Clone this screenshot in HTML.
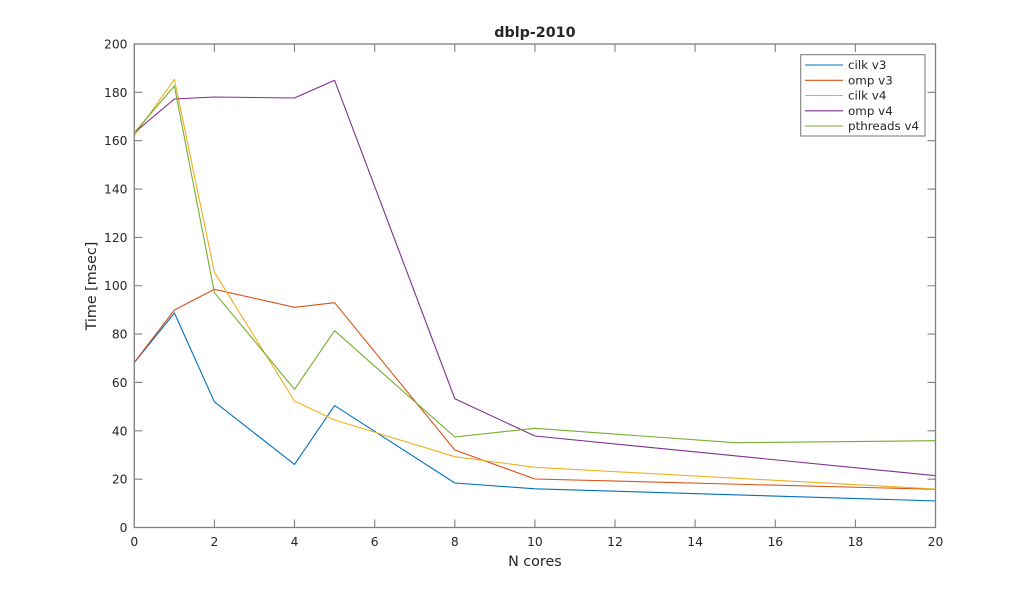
<!DOCTYPE html>
<html><head><meta charset="utf-8"><style>
html,body{margin:0;padding:0;background:#fff;}
svg{display:block;}
text{font-family:"DejaVu Sans","Liberation Sans",sans-serif;fill:#262626;}
</style></head><body>
<svg width="1034" height="593" viewBox="0 0 1034 593" xmlns="http://www.w3.org/2000/svg">
<rect width="1034" height="593" fill="#fff"/>
<!-- series -->
<g fill="none" stroke-width="1.1" stroke-linejoin="round">
<polyline stroke="#0072BD" points="134.3,362.6 174.4,313 214.4,401.8 294.5,464.4 334.6,405.6 454.8,483 534.9,488.8 935.5,500.9"/>
<polyline stroke="#D95319" points="134.3,362.3 174.4,310 214.4,289.3 294.5,307.3 334.6,302.7 454.8,450 534.9,479 935.5,489.3"/>
<polyline stroke="#EDB120" points="134.3,135.5 174.4,79.3 214.4,272.3 294.5,401 334.6,420 454.8,456.7 534.9,467.3 935.5,489"/>
<polyline stroke="#7E2F8E" points="134.3,132.7 174.4,99 214.4,97 294.5,98 334.6,80.3 454.8,398.7 534.9,436 935.5,475.7"/>
<polyline stroke="#77AC30" points="134.3,132.7 174.4,86 214.4,292.7 294.5,389.3 334.6,330.7 454.8,437 534.9,428.3 735.2,442.7 935.5,440.7"/>
</g>
<!-- axes box -->
<rect x="134.3" y="44" width="801.2" height="483.5" fill="none" stroke="#808080" stroke-width="1.3"/>
<g stroke="#808080" stroke-width="1.1">
<!-- x ticks bottom & top -->
<path d="M214.4,527.5v-8M294.5,527.5v-8M374.7,527.5v-8M454.8,527.5v-8M534.9,527.5v-8M615,527.5v-8M695.1,527.5v-8M775.3,527.5v-8M855.4,527.5v-8
M214.4,44v8M294.5,44v8M374.7,44v8M454.8,44v8M534.9,44v8M615,44v8M695.1,44v8M775.3,44v8M855.4,44v8"/>
<!-- y ticks left & right -->
<path d="M134.3,479.15h8M134.3,430.8h8M134.3,382.45h8M134.3,334.1h8M134.3,285.75h8M134.3,237.4h8M134.3,189.05h8M134.3,140.7h8M134.3,92.35h8
M935.5,479.15h-8M935.5,430.8h-8M935.5,382.45h-8M935.5,334.1h-8M935.5,285.75h-8M935.5,237.4h-8M935.5,189.05h-8M935.5,140.7h-8M935.5,92.35h-8"/>
</g>
<!-- x tick labels -->
<g font-size="12.3" text-anchor="middle">
<text x="134.3" y="546">0</text>
<text x="214.4" y="546">2</text>
<text x="294.5" y="546">4</text>
<text x="374.7" y="546">6</text>
<text x="454.8" y="546">8</text>
<text x="534.9" y="546">10</text>
<text x="615" y="546">12</text>
<text x="695.1" y="546">14</text>
<text x="775.3" y="546">16</text>
<text x="855.4" y="546">18</text>
<text x="935.5" y="546">20</text>
</g>
<!-- y tick labels -->
<g font-size="12.3" text-anchor="end">
<text x="127.5" y="532">0</text>
<text x="127.5" y="483.6">20</text>
<text x="127.5" y="435.3">40</text>
<text x="127.5" y="386.9">60</text>
<text x="127.5" y="338.6">80</text>
<text x="127.5" y="290.2">100</text>
<text x="127.5" y="241.9">120</text>
<text x="127.5" y="193.5">140</text>
<text x="127.5" y="145.2">160</text>
<text x="127.5" y="96.8">180</text>
<text x="127.5" y="48.5">200</text>
</g>
<!-- title and labels -->
<text x="534.9" y="37" font-size="14.3" font-weight="bold" text-anchor="middle" fill="#000">dblp-2010</text>
<text x="534.9" y="566" font-size="14.3" text-anchor="middle">N cores</text>
<text transform="translate(96,286) rotate(-90)" font-size="14.3" text-anchor="middle">Time [msec]</text>
<!-- legend -->
<rect x="800.7" y="54.7" width="124.3" height="81.3" fill="#fff" stroke="#808080" stroke-width="1.1"/>
<g stroke-width="1.1">
<line x1="805" y1="65" x2="843" y2="65" stroke="#0072BD"/>
<line x1="805" y1="80.3" x2="843" y2="80.3" stroke="#D95319"/>
<line x1="805" y1="95.5" x2="843" y2="95.5" stroke="#EDB120"/>
<line x1="805" y1="110.8" x2="843" y2="110.8" stroke="#7E2F8E"/>
<line x1="805" y1="126" x2="843" y2="126" stroke="#77AC30"/>
</g>
<g font-size="11.9" fill="#000">
<text x="848" y="69.2" fill="#000">cilk v3</text>
<text x="848" y="84.5" fill="#000">omp v3</text>
<text x="848" y="99.7" fill="#000">cilk v4</text>
<text x="848" y="115" fill="#000">omp v4</text>
<text x="848" y="130.2" fill="#000">pthreads v4</text>
</g>
</svg>
</body></html>
